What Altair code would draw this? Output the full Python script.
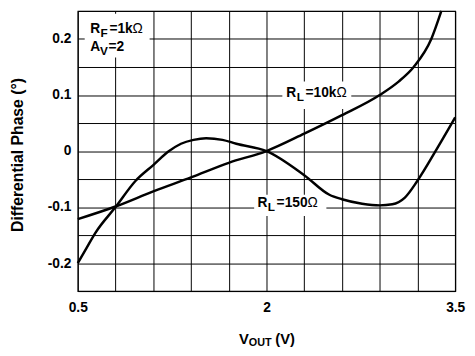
import altair as alt
import pandas as pd

# ---- data ----
v_10k = [0.5, 0.8, 1.1, 1.4, 1.7, 2.0, 2.3, 2.6, 2.9, 3.05, 3.17, 3.31, 3.39]
p_10k = [-0.1215, -0.099, -0.072, -0.047, -0.021, 0.0, 0.031, 0.064, 0.100, 0.124, 0.150, 0.200, 0.250]

v_150 = [0.5, 0.56, 0.64, 0.8, 0.96, 1.1, 1.22, 1.32, 1.42, 1.52, 1.65, 1.76, 2.0, 2.3, 2.5,
         2.6, 2.76, 2.9, 3.0, 3.1, 3.2, 3.36, 3.5]
p_150 = [-0.200, -0.177, -0.146, -0.100, -0.053, -0.025, -0.001, 0.013, 0.020, 0.023, 0.020, 0.013,
         0.0, -0.043, -0.078, -0.086, -0.094, -0.097, -0.095, -0.083, -0.053, 0.006, 0.060]

x_grid = [0.5, 0.8, 1.1, 1.4, 1.7, 2.0, 2.3, 2.6, 2.9, 3.2, 3.5]
y_grid = [-0.25, -0.2, -0.15, -0.1, -0.05, 0.0, 0.05, 0.1, 0.15, 0.2, 0.25]

FONT = "Liberation Sans"

df = pd.concat([
    pd.DataFrame({"v": v_10k, "p": p_10k, "s": "10k"}),
    pd.DataFrame({"v": v_150, "p": p_150, "s": "150"}),
])
one = pd.DataFrame({"a": [0]})

lines = alt.Chart(df).mark_line(color="black", strokeWidth=2.5, interpolate="monotone").encode(
    x=alt.X("v:Q", scale=alt.Scale(domain=[0.5, 3.5], nice=False, zero=False),
            axis=alt.Axis(values=x_grid, tickCount=30, title=None, labelFlush=False, labelPadding=10,
                          labelExpr="datum.value == 0.5 || datum.value == 2 || datum.value == 3.5 ? '' + datum.value : ''")),
    y=alt.Y("p:Q", scale=alt.Scale(domain=[-0.25, 0.25], nice=False, zero=False),
            axis=alt.Axis(values=y_grid, tickCount=30, title="Differential Phase (°)", labelPadding=7,
                          titleFontSize=16, titleFont=FONT, titleFontWeight="bold",
                          titleX=-61, titleY=146, titleAngle=270, titleAlign="center",
                          titleBaseline="middle",
                          labelExpr="round(datum.value*20) % 2 == 0 ? '' + round(datum.value*10)/10 : ''")),
    detail="s:N",
)


def box(x1, x2, y1, y2):
    return alt.Chart(one).mark_rect(color="white").encode(
        x=alt.X(datum=x1), x2=alt.X2(datum=x2), y=alt.Y(datum=y1), y2=alt.Y2(datum=y2))


def txt(v, p, s, dx=0, dy=0, size=14, weight="bold"):
    return alt.Chart(one).mark_text(
        text=s, align="left", baseline="alphabetic", dx=dx, dy=dy, fontSize=size,
        fontWeight=weight, font=FONT, color="black"
    ).encode(x=alt.X(datum=v), y=alt.Y(datum=p))


def ptxt(x, y, s, size=15):
    return alt.Chart(one).mark_text(
        text=s, align="left", baseline="alphabetic", fontSize=size,
        fontWeight="bold", font=FONT, color="black"
    ).encode(x=alt.value(x), y=alt.value(y))


boxes = [
    box(0.555, 1.071, 0.245, 0.167),
    box(2.126, 2.674, 0.124, 0.075),
    box(1.902, 2.476, -0.078, -0.116),
]

labels = [
    # R_F=1kΩ
    txt(0.599, 0.211, "R"), txt(0.599, 0.211, "F", dx=10.5, dy=4, size=12),
    txt(0.599, 0.211, "=1k", dx=19.5), txt(0.599, 0.211, "Ω", dx=43, weight="normal"),
    # A_V=2
    txt(0.599, 0.178, "A"), txt(0.599, 0.178, "V", dx=10, dy=4, size=12),
    txt(0.599, 0.178, "=2", dx=18.5),
    # R_L=10kΩ
    txt(2.158, 0.0972, "R"), txt(2.158, 0.0972, "L", dx=10.5, dy=4, size=12),
    txt(2.158, 0.0972, "=10k", dx=19.5), txt(2.158, 0.0972, "Ω", dx=51, weight="normal"),
    # R_L=150Ω
    txt(1.928, -0.1007, "R"), txt(1.928, -0.1007, "L", dx=10.5, dy=4, size=12),
    txt(1.928, -0.1007, "=150", dx=19.5), txt(1.928, -0.1007, "Ω", dx=51, weight="normal"),
    # x title V_OUT (V)
    ptxt(164, 339, "V"), ptxt(174, 341, "OUT", size=11), ptxt(201, 339, "(V)"),
]

chart = alt.layer(*boxes, *labels, lines).properties(
    width=384, height=285,
    autosize=alt.AutoSizeParams(type="none"),
    padding={"left": 71, "top": 0, "right": 12, "bottom": 63},
).configure_view(
    stroke="black", strokeWidth=1.2
).configure_axis(
    grid=True, gridColor="black", gridOpacity=1, gridWidth=1,
    domain=False, ticks=False, tickSize=0,
    labelFont=FONT, labelFontWeight="bold", labelFontSize=14, labelColor="black",
    titleColor="black",
)

chart.save("out.html", embed_options={"renderer": "svg", "actions": False})
